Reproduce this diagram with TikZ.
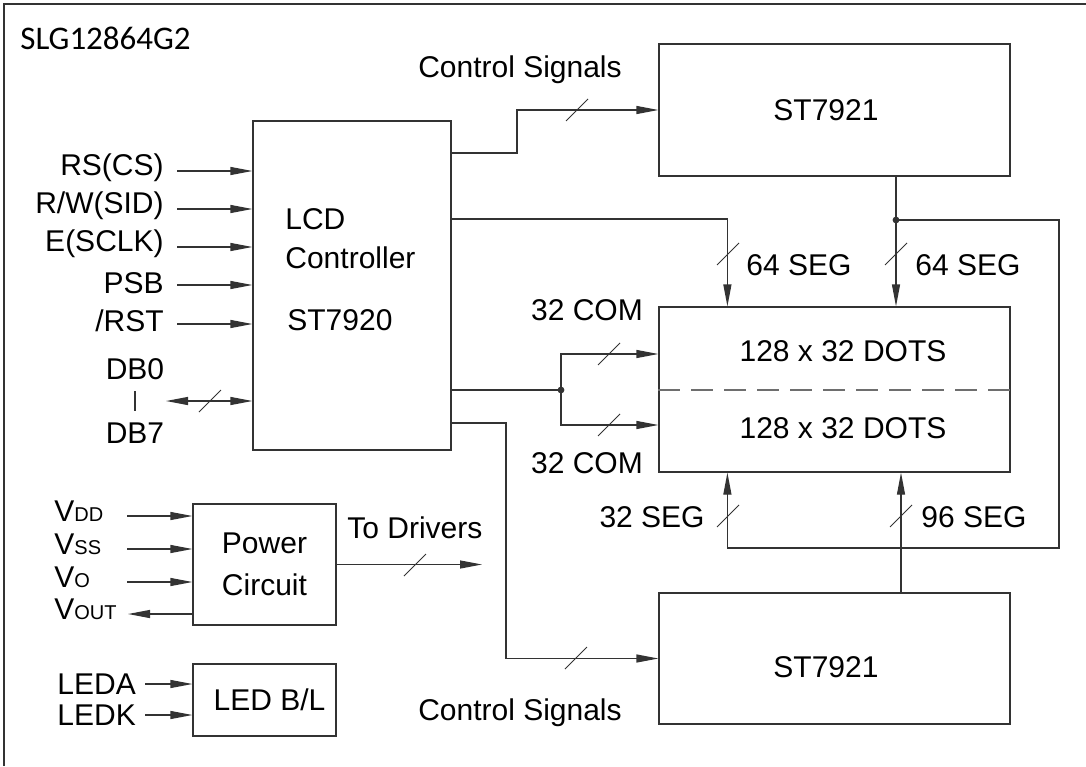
\documentclass[tikz,border=0pt]{standalone}
\usepackage{fontspec}
\setmainfont{Liberation Sans}
\newfontfamily\titlefont{Carlito}
\usepackage{tikz}
\usetikzlibrary{calc,arrows.meta}
\definecolor{ink}{HTML}{333333}
\definecolor{dashgray}{HTML}{6E6E6E}
\newcommand{\subcap}[1]{{\fontsize{10}{12}\selectfont #1}}
\newcommand{\busmark}[1]{\draw[bus] ($(#1)+(-11,11)$) -- ($(#1)+(11,-11)$);}
\tikzset{
  base/.style={draw=ink, line width=0.6pt},
  sig/.style={base, -{Triangle[length=11pt,width=4pt]}},
  sigboth/.style={base, {Triangle[length=11pt,width=4pt]}-{Triangle[length=11pt,width=4pt]}},
  bus/.style={draw=ink, line width=0.45pt},
  blk/.style={base, inner sep=0pt},
  lab/.style={text=black, font=\fontsize{15}{21}\selectfont, inner sep=0pt},
  dot/.style={circle, fill=ink, inner sep=1.2pt},
}

\begin{document}
\begin{tikzpicture}[x=0.5pt,y=-0.5pt]
  \useasboundingbox (0,0) rectangle (1086,766);
  % frame and title
  \draw[base, line width=0.8pt] (4,766) -- (4,4) -- (1086,4);
  \node[lab, anchor=west, font=\titlefont\fontsize{16.5}{20}\selectfont] (title) at (20,38) {SLG12864G2};

  % blocks
  \node[blk, minimum width=99pt, minimum height=164.5pt] (ctrl) at (352,285.5) {};
  \node[blk, minimum width=175.5pt, minimum height=66pt] (drvT) at (834.5,110) {};
  \node[blk, minimum width=175.5pt, minimum height=82.5pt] (disp) at (834.5,389.5) {};
  \node[blk, minimum width=175.5pt, minimum height=65.5pt] (drvB) at (834.5,658.5) {};
  \node[blk, minimum width=71.5pt, minimum height=60.5pt, lab, align=center] (power) at (264.5,564.5) {Power\\Circuit};
  \node[blk, minimum width=71.5pt, minimum height=36pt, lab] (led) at (264.5,700) {\hspace{5pt}LED B/L};

  % block texts
  \node[lab, anchor=west] (ctrlA) at (285,219) {LCD};
  \node[lab, anchor=west] (ctrlB) at (285,258) {Controller};
  \node[lab, anchor=west] (ctrlC) at (287,320) {ST7920};
  \node[lab] (nameT) at (826,110) {ST7921};
  \node[lab] (nameB) at (826,667) {ST7921};
  \node[lab] (dotsA) at (843,351) {128 x 32 DOTS};
  \node[lab] (dotsB) at (843,428) {128 x 32 DOTS};
  \draw[dashgray, line width=1pt, dash pattern=on 11pt off 5.5pt] (disp.west) -- (disp.east);

  % controller inputs
  \node[lab, anchor=east] (rs) at (164,168) {RS(CS)};
  \node[lab, anchor=east] (rw) at (164,206) {R/W(SID)};
  \node[lab, anchor=east] (en) at (164,244) {E(SCLK)};
  \node[lab, anchor=east] (psb) at (164,283) {PSB};
  \node[lab, anchor=east] (rst) at (164,321) {/RST};
  \coordinate (rsIn) at (177,171);
  \coordinate (rwIn) at (177,209);
  \coordinate (enIn) at (177,247);
  \coordinate (psbIn) at (177,285);
  \coordinate (rstIn) at (177,324);
  \draw[sig] (rsIn) -- (rsIn -| ctrl.west);
  \draw[sig] (rwIn) -- (rwIn -| ctrl.west);
  \draw[sig] (enIn) -- (enIn -| ctrl.west);
  \draw[sig] (psbIn) -- (psbIn -| ctrl.west);
  \draw[sig] (rstIn) -- (rstIn -| ctrl.west);
  % data bus
  \node[lab, inner sep=5.5pt] (db0) at (135,369) {DB0};
  \node[lab, inner sep=5.5pt] (db7) at (135,433) {DB7};
  \draw[base] (db0.south) -- (db7.north);
  \coordinate (dbIn) at (166,401);
  \draw[sigboth] (dbIn) -- (dbIn -| ctrl.west);
  \busmark{210,401}

  % controller outputs
  \coordinate (oT) at (ctrl.east |- 0,153);
  \coordinate (oS) at (ctrl.east |- 0,219);
  \coordinate (oC) at (ctrl.east |- 0,390);
  \coordinate (oB) at (ctrl.east |- 0,423);
  \draw[sig] (oT) -| (517,110) -- (drvT.west);
  \busmark{577,110}
  \node[lab] (ctlT) at (520,70) {Control Signals};
  \draw[sig] (oB) -| (506,658.5) -- (drvB.west);
  \busmark{576,658}
  \node[lab] (ctlB) at (520,713) {Control Signals};

  % segment lines
  \coordinate (segL) at ([xshift=34.5pt]disp.north west);
  \coordinate (segR) at ([xshift=30.75pt]drvT.south);
  \coordinate (segB) at ([xshift=33.25pt]drvB.north);
  \draw[sig] (oS) -| (segL);
  \busmark{728,254}
  \node[lab, anchor=west] (segA) at (746,265) {64 SEG};
  \draw[sig] (segR) -- (segR |- disp.north);
  \busmark{896,254}
  \node[lab, anchor=west] (segBt) at (915,265) {64 SEG};
  \node[dot] (jT) at (segR |- 0,220) {};
  \draw[sig] (jT.center) -- (1059,220) -- (1059,548) -| (segL |- disp.south);
  \busmark{728,516}
  \node[lab, anchor=east] (segC) at (705,517) {32 SEG};
  \draw[sig] (segB) -- (segB |- disp.south);
  \busmark{901,516}
  \node[lab, anchor=west] (segD) at (921,517) {96 SEG};

  % common lines
  \node[dot] (jC) at (561,390) {};
  \draw[base] (oC) -- (jC.center);
  \draw[sig] (jC.center) |- ([yshift=17.75pt]disp.west);
  \draw[sig] (jC.center) |- ([yshift=-17.75pt]disp.west);
  \busmark{609,354}
  \busmark{609,425}
  \node[lab] (comA) at (587,310) {32 COM};
  \node[lab] (comB) at (587,463) {32 COM};

  % power circuit
  \node[lab, anchor=west] (vdd) at (54,511) {V\subcap{DD}};
  \node[lab, anchor=west] (vss) at (54,544) {V\subcap{SS}};
  \node[lab, anchor=west] (vo) at (54,577) {V\subcap{O}};
  \node[lab, anchor=west] (vout) at (54,609) {V\subcap{OUT}};
  \coordinate (vddIn) at (127,516);
  \coordinate (vssIn) at (127,549);
  \coordinate (voIn) at (127,582);
  \coordinate (voutOut) at (128,614);
  \draw[sig] (vddIn) -- (vddIn -| power.west);
  \draw[sig] (vssIn) -- (vssIn -| power.west);
  \draw[sig] (voIn) -- (voIn -| power.west);
  \draw[sig] (voutOut -| power.west) -- (voutOut);
  \coordinate (toDrv) at (482,564.5);
  \draw[sig] (power.east) -- (toDrv);
  \busmark{415,565}
  \node[lab, anchor=west] (drvLab) at (347,528) {To Drivers};

  % backlight
  \node[lab, anchor=west] (leda) at (57,684) {LEDA};
  \node[lab, anchor=west] (ledk) at (57,715) {LEDK};
  \coordinate (ledaIn) at (145,684);
  \coordinate (ledkIn) at (145,715);
  \draw[sig] (ledaIn) -- (ledaIn -| led.west);
  \draw[sig] (ledkIn) -- (ledkIn -| led.west);
\end{tikzpicture}
\end{document}
